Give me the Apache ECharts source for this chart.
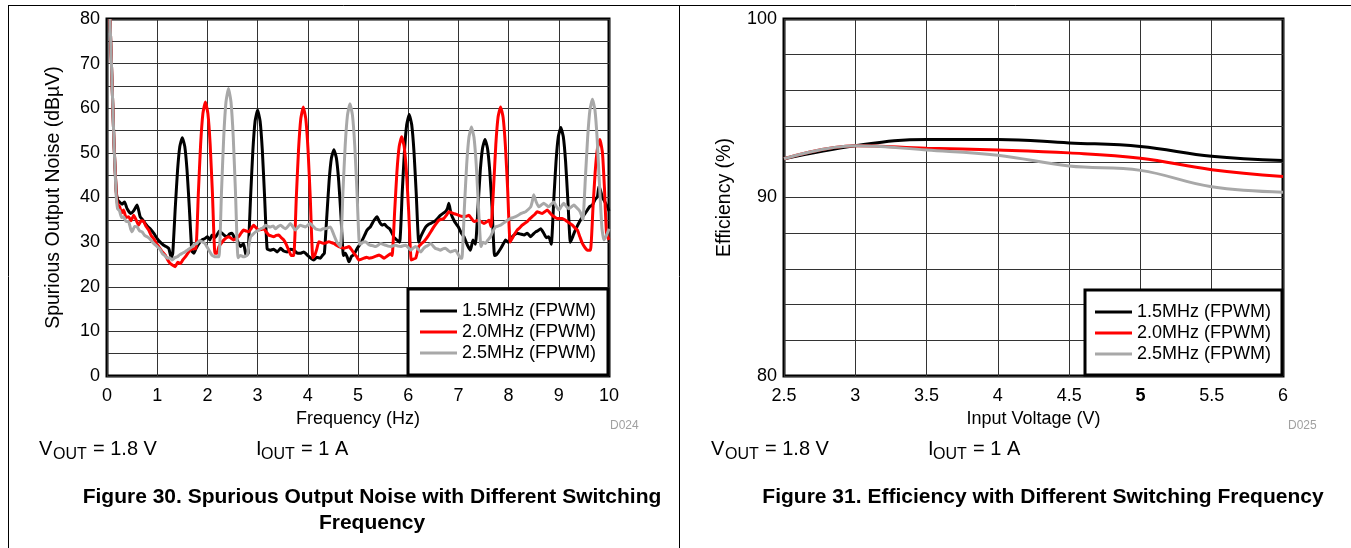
<!DOCTYPE html>
<html>
<head>
<meta charset="utf-8">
<script src="https://cdn.jsdelivr.net/npm/echarts@6/dist/echarts.min.js"></script>
<style>
  html, body { margin: 0; padding: 0; background: #fff; }
  #chart { width: 1351px; height: 548px; }
</style>
</head>
<body>
<div id="chart"></div>
<script>
// ---- Figure 30: spurious output noise (dBuV) vs frequency (Hz)
const seriesNames = ["1.5MHz (FPWM)", "2.0MHz (FPWM)", "2.5MHz (FPWM)"];
const noiseTicksY = [0, 10, 20, 30, 40, 50, 60, 70, 80];

const noiseF15 = [0.06,0.10,0.14,0.18,0.21,0.25,0.30,0.35,0.40,0.47,0.53,0.60,0.66,0.71,0.76,0.81,0.86,0.93,1.00,1.06,1.13,1.18,1.23,1.28,
  1.31,1.36,1.405,1.45,1.50,1.55,1.595,1.64,1.69,1.73,1.77,1.81,1.85,1.89,1.95,2.00,2.05,2.09,2.14,2.19,2.24,2.29,2.34,2.39,2.44,2.49,2.54,2.59,2.66,2.72,2.77,
  2.81,2.86,2.905,2.95,3.00,3.05,3.095,3.14,3.19,3.25,3.32,3.39,3.46,3.52,3.59,3.65,3.72,3.78,3.85,3.92,3.99,4.05,4.12,4.18,4.25,4.29,
  4.33,4.38,4.425,4.47,4.52,4.57,4.615,4.66,4.71,4.75,4.79,4.82,4.87,4.92,4.98,5.05,5.11,5.18,5.25,5.32,5.38,5.43,5.48,5.53,5.58,5.63,5.68,5.72,5.77,
  5.83,5.88,5.925,5.97,6.02,6.07,6.115,6.16,6.21,6.25,6.30,6.35,6.41,6.45,6.50,6.55,6.60,6.64,6.70,6.74,6.78,6.81,6.85,6.91,6.96,7.00,7.06,7.11,7.18,7.24,7.29,
  7.34,7.39,7.435,7.48,7.53,7.58,7.625,7.67,7.72,7.76,7.80,7.84,7.89,7.94,7.99,8.04,8.10,8.17,8.24,8.31,8.37,8.44,8.49,8.54,8.59,8.64,8.70,8.75,8.80,
  8.85,8.90,8.945,8.99,9.04,9.09,9.135,9.18,9.23,9.27,9.31,9.36,9.41,9.46,9.51,9.57,9.62,9.67,9.72,9.77,9.80,9.83,9.87,9.90,9.94,9.97,10.0];
const noiseV15 = [80,66,52,42,39.5,39,38.5,39,37.5,36.4,37,38.3,35.7,35,34.2,33.5,33,32,30.8,30,29.3,29,28.6,26.5,
  27.5,37.7,46,51.4,53.4,51.4,46,37.7,28,27.5,28.5,29.3,30,30.5,30.8,31.2,30.5,31.6,31,31.6,32.5,32,31.5,31.2,31.8,32,31,30.5,29,29.7,27,
  27.5,40,50.4,57.1,59.6,57.1,50.4,40,28.5,28.2,28.4,27.8,28.6,28,27.8,28.4,28.2,27.6,27.5,27.8,27.1,26.5,26,26.6,26.4,27,
  27.5,36,43.8,48.8,50.7,48.8,43.8,36,27,27.5,26.5,25.6,26.8,27.2,28.5,29.7,31,32.7,33.5,34.9,35.7,34.5,33.8,34,33.4,33,32,31,30.5,
  30,40.9,50.3,56.3,58.6,56.3,50.3,40.9,30,31.2,32.4,33.4,34,34.2,34.5,34.9,35.5,36,36.5,36.8,37.5,38.7,36.5,34.9,34,33.4,32,31.2,29.3,28.2,30.5,
  29.5,37.8,45.9,51,53,51,45.9,37.8,27,27.2,27.8,28.5,29.5,30.5,30,30.8,31.5,32,31.8,31.6,32,31.2,31.8,32.3,32.6,33,32,31,31.2,
  29.5,39.5,48.1,53.6,55.7,53.6,48.1,39.5,30,31,32.2,33.4,34.5,35.5,36.2,37.2,38,38.3,39.5,40.2,42.5,41.6,40,39.4,38.5,37.9,37];

const noiseF20 = [0.06,0.10,0.14,0.18,0.21,0.25,0.29,0.33,0.38,0.43,0.48,0.53,0.58,0.63,0.68,0.73,0.78,0.83,0.88,0.93,0.98,1.03,1.09,1.16,1.21,1.26,1.31,1.36,1.41,1.46,1.51,1.56,1.61,1.66,1.72,
  1.77,1.82,1.865,1.91,1.96,2.01,2.055,2.10,2.15,2.19,2.23,2.28,2.33,2.38,2.43,2.48,2.52,2.57,2.62,2.67,2.72,2.77,2.82,2.87,2.92,2.97,3.02,3.07,3.12,3.17,3.22,3.27,3.32,3.37,3.42,3.47,3.52,3.57,3.62,3.67,
  3.72,3.77,3.815,3.86,3.91,3.96,4.005,4.05,4.10,4.14,4.18,4.22,4.27,4.32,4.37,4.42,4.47,4.52,4.57,4.62,4.67,4.72,4.77,4.82,4.87,4.92,4.97,5.02,5.07,5.12,5.17,5.22,5.27,5.32,5.37,5.42,5.47,5.52,5.57,5.61,5.65,
  5.68,5.73,5.775,5.82,5.87,5.92,5.965,6.01,6.06,6.10,6.15,6.21,6.26,6.31,6.36,6.41,6.46,6.51,6.56,6.61,6.66,6.71,6.76,6.81,6.86,6.91,6.96,7.01,7.06,7.11,7.16,7.21,7.26,7.31,7.36,7.41,7.46,7.51,7.56,7.61,
  7.65,7.70,7.745,7.79,7.84,7.89,7.935,7.98,8.03,8.07,8.12,8.17,8.22,8.27,8.32,8.37,8.42,8.47,8.52,8.57,8.62,8.67,8.72,8.77,8.82,8.87,8.92,8.97,9.02,9.07,9.12,9.17,9.22,9.27,9.32,9.37,9.42,9.47,9.52,9.57,
  9.63,9.68,9.725,9.77,9.82,9.87,9.91,9.95,10.0];
const noiseV20 = [80,66,52,42,38.5,38,36.5,37.2,35.5,35.7,34.8,36,35,33.8,34.8,34.6,33.5,32.7,31.5,30.8,29.8,29,28,27.1,26,25.2,24.8,24.5,25.5,25.2,26,26.7,27.5,28.2,28.5,
  28.5,41,51.9,58.8,61.4,58.8,51.9,41,27.5,27.5,29,29.8,30.5,31,31.2,30.8,30.5,30.8,31.2,32,32.7,32.5,32.3,33,33.8,33.2,32.7,32.8,33,32.3,31.6,31.4,31.2,31.5,31.6,31,30.5,29.5,28.2,27,
  27,39.7,50.6,57.6,60.3,57.6,50.6,39.7,26.5,27.1,28.5,30.1,29.9,29.7,29.9,30.1,29.9,29.7,29.3,29,28.8,28.6,28.8,29,28.3,27.5,26.8,26,26.2,26.4,26.6,26.4,26.5,26.7,26.9,27.1,26.8,26.4,26.8,27.1,27.4,
  27,36.8,45.7,51.4,53.6,51.4,45.7,36.8,26,26.2,26.4,29,29.6,30.1,30.8,31.6,32.5,33.4,34.2,34.9,35.1,35.3,36,36.8,36.6,36.4,36.2,36,35.8,35.7,35.8,36,35.3,34.6,34.8,34.9,34.5,34.2,34.5,34.9,
  33.5,42.1,51.8,58,60.3,58,51.8,42.1,30,30.8,31.8,32.7,33.2,33.8,34.2,34.6,35.2,35.7,36.2,36.8,36.6,36.4,36.8,37.2,36.6,36,35.6,35.3,35.3,35.3,35,34.6,34.2,33.8,33.2,32.7,31.2,29.7,28.8,28.2,
  28.2,37.5,45.8,51,53,50,42,32,30.5];

const noiseF25 = [0.06,0.10,0.14,0.18,0.21,0.25,0.29,0.33,0.38,0.43,0.47,0.50,0.55,0.60,0.65,0.70,0.75,0.80,0.85,0.90,0.95,1.00,1.05,1.10,1.15,1.20,1.25,1.30,1.35,1.40,1.45,1.50,1.55,1.60,1.65,1.70,1.75,1.79,1.84,1.89,1.94,1.99,2.04,2.09,2.16,
  2.23,2.28,2.325,2.37,2.42,2.47,2.515,2.56,2.61,2.66,2.72,2.79,2.83,2.86,2.91,2.96,3.01,3.06,3.11,3.16,3.21,3.26,3.31,3.36,3.41,3.46,3.51,3.56,3.61,3.65,3.70,3.75,3.80,3.85,3.90,3.95,4.00,4.05,4.10,4.15,4.20,4.25,4.30,4.35,4.40,4.45,4.52,4.58,
  4.65,4.70,4.745,4.79,4.84,4.89,4.935,4.98,5.03,5.07,5.10,5.15,5.20,5.25,5.30,5.35,5.40,5.45,5.50,5.55,5.60,5.65,5.70,5.75,5.80,5.85,5.90,5.95,6.00,6.05,6.10,6.15,6.20,6.25,6.30,6.35,6.40,6.45,6.50,6.54,6.60,6.64,6.69,6.74,6.79,6.84,6.89,6.94,7.00,7.04,
  7.07,7.12,7.165,7.21,7.26,7.31,7.355,7.40,7.45,7.49,7.54,7.59,7.64,7.69,7.74,7.79,7.84,7.89,7.94,7.99,8.04,8.09,8.14,8.19,8.24,8.29,8.34,8.39,8.44,8.47,8.50,8.55,8.60,8.65,8.70,8.75,8.80,8.85,8.90,8.95,9.00,9.05,9.10,9.15,9.20,9.25,9.30,9.35,9.40,9.44,
  9.48,9.53,9.575,9.62,9.67,9.72,9.765,9.81,9.86,9.90,9.95,10.0];
const noiseV25 = [80,66,52,41,37.5,37,35.5,35.7,34.6,34.6,33,32.3,33.5,33.4,32.5,32.3,31.5,31.2,30.8,30.1,29.5,29,28.5,27.5,27,26.4,26.5,26,26.5,26.7,27.2,27.5,27.8,28.2,28.6,29,29.5,29.7,30.3,30.1,29.8,29,28,27.1,26.7,
  26.7,41,53.5,61.4,64.4,61.4,53.5,41,26.5,27,26.7,27,29.5,31.2,31.8,32.3,32.6,33,33.2,33.8,33.5,33.4,33.6,33,33.5,33.8,33.3,33,33.6,34.2,33.5,32.7,33.3,33.8,33.6,33.4,33.8,34.2,33.6,33,32.8,32.7,33,33,33.2,33.4,31.6,30,
  29,41.2,51.7,58.4,61,58.4,51.7,41.2,29.5,29.7,30,30.1,29.6,29.3,29.2,29,29.3,29.7,29.5,29.3,29.1,29,29.2,29.3,29.1,29,29.2,29.3,28.8,28.2,28.7,29,28.4,27.8,28.5,29,29.3,29.7,29.1,28.6,28.4,28.2,28.5,28.6,28.2,27.8,28,28.2,27.2,26.4,
  26.4,37.9,47.4,53.5,55.8,53.5,47.4,37.9,29,30,29.7,30.5,31.2,32.5,33.4,33.6,33.8,34.2,34.6,35,35.3,35.5,35.7,36,36.4,36.6,36.8,37.3,37.9,39,40.6,39,37.9,38.3,38.7,38.3,37.9,38.5,39,38,37.2,38,38.7,38,37.5,37.9,38.3,37.8,37.2,36.4,
  35,44.5,53.5,59.6,62,59.6,53,43,33,30.5,31.5,33];

// ---- Figure 31: efficiency (%) vs input voltage (V)
const voltage = [2.5, 3, 3.5, 4, 4.5, 5, 5.5, 6];
const eff15 = [92.17, 92.9, 93.25, 93.25, 93.06, 92.86, 92.31, 92.07];
const eff20 = [92.17, 92.9, 92.76, 92.66, 92.5, 92.2, 91.56, 91.18];
const eff25 = [92.17, 92.9, 92.66, 92.37, 91.76, 91.52, 90.6, 90.3];

const colors = ["#000000", "#ff0000", "#a8a8a8"];
const FONT = '"Liberation Sans", Arial, sans-serif';

const zip = (xs, ys) => xs.map((x, i) => [x, ys[i]]);

const chart = echarts.init(document.getElementById("chart"), null, { renderer: "canvas" });

const axisLabel = { color: "#000", fontSize: 18, fontFamily: FONT };
const splitLine = { show: true, lineStyle: { color: "#333", width: 1 } };
const nameStyle = { color: "#000", fontSize: 18, fontFamily: FONT };
// vertical titles look a touch bigger in the scan
const nameStyleY = { color: "#000", fontSize: 19.5, fontFamily: FONT };

const legendBase = {
  orient: "vertical",
  icon: "rect",
  itemWidth: 37,
  itemHeight: 3,
  itemGap: 3,
  backgroundColor: "#fff",
  borderColor: "#000",
  borderWidth: 3,
  borderRadius: 0,
  textStyle: { color: "#000", fontSize: 18, fontFamily: FONT, lineHeight: 18 },
  selectedMode: false,
};

const lineSeries = (name, data, xi, color, smooth) => ({
  name, type: "line", data,
  xAxisIndex: xi, yAxisIndex: xi,
  showSymbol: false, symbol: "none", smooth,
  lineStyle: { color, width: 3 },
  itemStyle: { color },
  animation: false,
});

// little helper for the free text under the plots
const txt = (text, x, y, font, opts = {}) => ({
  type: "text", x, y,
  style: Object.assign({ text, font: `${font} ${FONT}`, fill: "#000", align: "left", verticalAlign: "middle" }, opts),
});

const option = {
  animation: false,
  backgroundColor: "#fff",
  grid: [
    { left: 107, top: 19, width: 502, height: 357, show: true, borderColor: "#000", borderWidth: 3, backgroundColor: "transparent" },
    { left: 784, top: 19, width: 499, height: 357, show: true, borderColor: "#000", borderWidth: 3, backgroundColor: "transparent" },
  ],
  legend: [
    Object.assign({}, legendBase, { data: seriesNames, left: 408, top: 289, padding: [13, 12, 13, 12] }),
    Object.assign({}, legendBase, { data: seriesNames.map(n => n + " "), left: 1085, top: 290, padding: [13, 6, 12, 10] }),
  ],
  xAxis: [
    {
      gridIndex: 0, type: "value", min: 0, max: 10, interval: 1,
      name: "Frequency (Hz)", nameLocation: "middle", nameGap: 31, nameTextStyle: nameStyle,
      axisLine: { show: false }, axisTick: { show: false },
      axisLabel: Object.assign({ margin: 11 }, axisLabel),
      splitLine,
    },
    {
      gridIndex: 1, type: "value", min: 2.5, max: 6, interval: 0.5,
      name: "Input Voltage (V)", nameLocation: "middle", nameGap: 31, nameTextStyle: nameStyle,
      axisLine: { show: false }, axisTick: { show: false },
      axisLabel: Object.assign({
        margin: 11,
        formatter: v => (v === 5 ? "{b|5}" : String(v)),
        rich: { b: { fontWeight: "bold", fontSize: 18, fontFamily: FONT, color: "#000" } },
      }, axisLabel),
      splitLine,
    },
  ],
  yAxis: [
    {
      gridIndex: 0, type: "value", min: 0, max: 80, interval: 5,
      name: "Spurious Output Noise (dB\u00B5V)", nameLocation: "middle", nameGap: 43, nameTextStyle: nameStyleY,
      axisLine: { show: false }, axisTick: { show: false },
      axisLabel: Object.assign({ margin: 7, formatter: v => (noiseTicksY.includes(v) ? String(v) : "") }, axisLabel),
      splitLine,
    },
    {
      gridIndex: 1, type: "value", min: 80, max: 100, interval: 2,
      name: "Efficiency (%)", nameLocation: "middle", nameGap: 49, nameTextStyle: nameStyleY,
      axisLine: { show: false }, axisTick: { show: false },
      axisLabel: Object.assign({ margin: 7, formatter: v => (v % 10 === 0 ? String(v) : "") }, axisLabel),
      splitLine,
    },
  ],
  series: [
    lineSeries(seriesNames[0], zip(noiseF15, noiseV15), 0, colors[0], 0.15),
    lineSeries(seriesNames[1], zip(noiseF20, noiseV20), 0, colors[1], 0.15),
    lineSeries(seriesNames[2], zip(noiseF25, noiseV25), 0, colors[2], 0.15),
    lineSeries(seriesNames[0] + " ", zip(voltage, eff15), 1, colors[0], 0.4),
    lineSeries(seriesNames[1] + " ", zip(voltage, eff20), 1, colors[1], 0.4),
    lineSeries(seriesNames[2] + " ", zip(voltage, eff25), 1, colors[2], 0.4),
  ],
  graphic: [
    // page frame
    { type: "line", shape: { x1: 8, y1: 5.5, x2: 1351, y2: 5.5 }, style: { stroke: "#000", lineWidth: 1 } },
    { type: "line", shape: { x1: 8.5, y1: 5, x2: 8.5, y2: 548 }, style: { stroke: "#000", lineWidth: 1 } },
    { type: "line", shape: { x1: 679.5, y1: 5, x2: 679.5, y2: 548 }, style: { stroke: "#000", lineWidth: 1 } },
    // figure ids
    txt("D024", 610, 426, "12px", { fill: "#a0a0a0" }),
    txt("D025", 1288, 426, "12px", { fill: "#a0a0a0" }),
    // conditions, left
    txt("V", 39, 449, "20px"), txt("OUT", 53, 455, "16px"), txt("= 1.8 V", 93, 449, "20px"),
    txt("I", 256, 449, "20px"), txt("OUT", 261, 455, "16px"), txt("= 1 A", 301, 449, "20px"),
    // conditions, right
    txt("V", 711, 449, "20px"), txt("OUT", 725, 455, "16px"), txt("= 1.8 V", 765, 449, "20px"),
    txt("I", 928, 449, "20px"), txt("OUT", 933, 455, "16px"), txt("= 1 A", 973, 449, "20px"),
    // captions
    txt("Figure 30. Spurious Output Noise with Different Switching", 372, 497, "bold 21px", { align: "center" }),
    txt("Frequency", 372, 523, "bold 21px", { align: "center" }),
    txt("Figure 31. Efficiency with Different Switching Frequency", 1043, 497, "bold 21px", { align: "center" }),
  ],
};

chart.setOption(option);
</script>
</body>
</html>
